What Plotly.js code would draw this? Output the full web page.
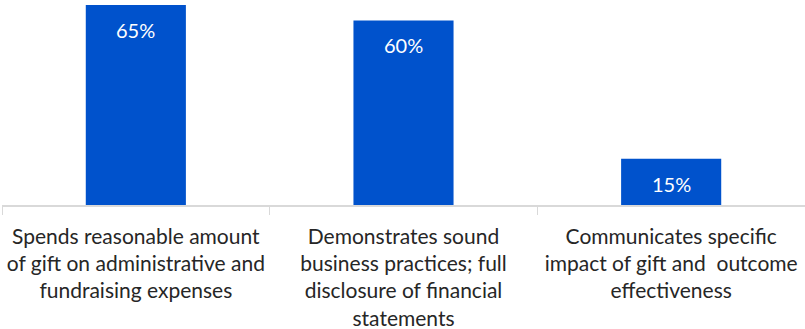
<!DOCTYPE html>
<html>
<head>
<meta charset="utf-8">
<script src="https://cdn.plot.ly/plotly-3.0.1.min.js"></script>
<style>html,body{margin:0;padding:0;background:#fff;}#chart{width:805px;height:329px;}</style>
</head>
<body>
<div id="chart"></div>
<script>
const categories = [
  "Spends reasonable amount<br>of gift on administrative and<br>fundraising expenses",
  "Demonstrates sound<br>business practices; full<br>disclosure of financial<br>statements",
  "Communicates specific<br>impact of gift and  outcome<br>effectiveness"
];
const values = [65, 60, 15];
const valueLabels = ["65%", "60%", "15%"];

const trace = {
  type: 'bar',
  x: categories,
  y: values,
  marker: {color: '#0052CC'},
  hoverinfo: 'none'
};

const annotations = categories.map((c, i) => ({
  x: c, y: values[i], xref: 'x', yref: 'y',
  text: valueLabels[i], showarrow: false,
  yanchor: 'middle', yshift: -25,
  font: {family: 'Lato, sans-serif', size: 20, color: '#ffffff'}
}));

const layout = {
  width: 805, height: 329,
  margin: {l: 2, r: 0, t: 5, b: 124},
  paper_bgcolor: '#ffffff', plot_bgcolor: '#ffffff',
  bargap: 0.626,
  showlegend: false,
  font: {family: 'Lato, sans-serif', color: '#262626'},
  xaxis: {
    type: 'category',
    showline: true, linecolor: '#d9d9d9', linewidth: 1.5,
    ticks: 'outside', tickson: 'boundaries', ticklen: 8, tickcolor: '#d9d9d9', tickwidth: 1,
    ticklabelstandoff: 12,
    tickfont: {family: 'Lato, sans-serif', size: 21, color: '#262626'},
    showgrid: false, zeroline: false, fixedrange: true
  },
  yaxis: {
    range: [0, 65], visible: false, showgrid: false, zeroline: false, fixedrange: true
  },
  annotations: annotations
};

Plotly.newPlot('chart', [trace], layout, {displayModeBar: false, staticPlot: true});
</script>
</body>
</html>
